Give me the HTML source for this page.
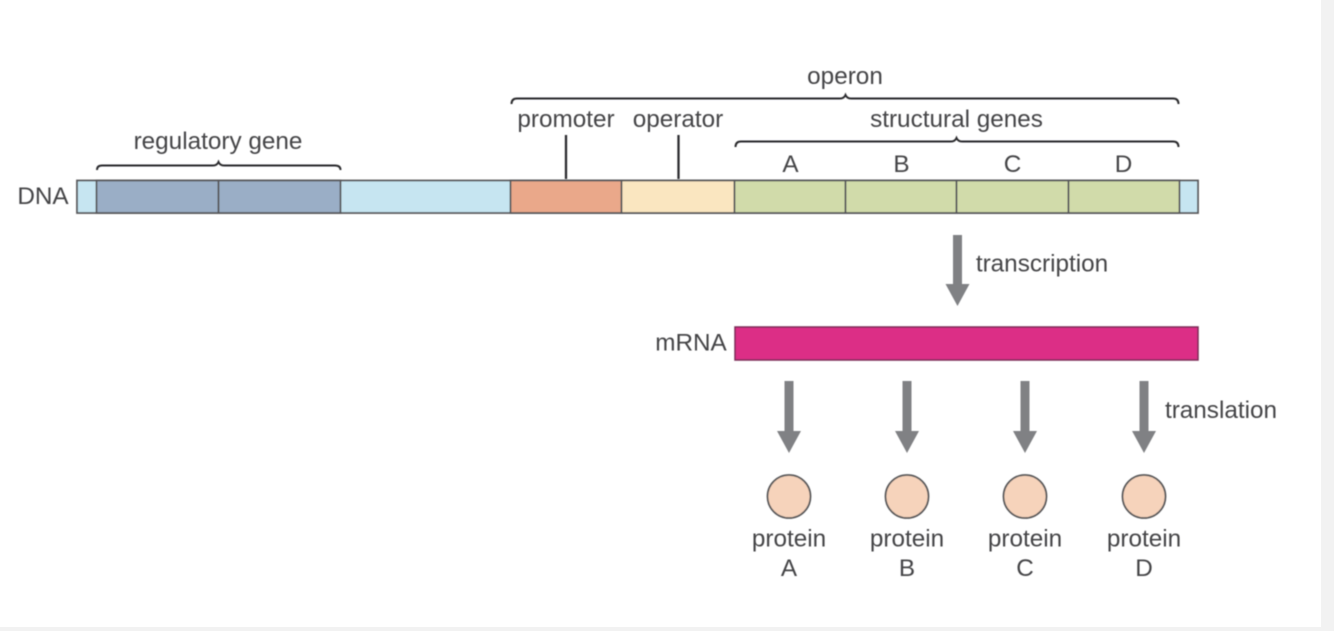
<!DOCTYPE html>
<html>
<head>
<meta charset="utf-8">
<style>
html,body{margin:0;padding:0;background:#f2f2f2;width:1334px;height:631px;overflow:hidden}
svg{display:block}
text{font-family:"Liberation Sans",sans-serif;font-size:24.300px;fill:#454547;text-anchor:middle}
</style>
</head>
<body>
<svg width="1334" height="631" viewBox="0 0 1334 631" xmlns="http://www.w3.org/2000/svg">
<defs><filter id="b" x="0" y="0" width="100%" height="100%"><feGaussianBlur stdDeviation="0.6"/></filter></defs>
<rect x="0" y="0" width="1321" height="627" fill="#ffffff"/>
<g filter="url(#b)">
<g stroke="#58595b" stroke-width="1.800">
<rect x="77" y="180.500" width="1121" height="32.500" fill="#c6e5f1"/>
<rect x="96.500" y="180.500" width="122" height="32.500" fill="#9aaec6"/>
<rect x="218.500" y="180.500" width="122" height="32.500" fill="#9aaec6"/>
<rect x="510.500" y="180.500" width="111" height="32.500" fill="#eaa88a"/>
<rect x="621.500" y="180.500" width="113" height="32.500" fill="#fae6c0"/>
<rect x="734.500" y="180.500" width="111" height="32.500" fill="#d1dbaa"/>
<rect x="845.500" y="180.500" width="111" height="32.500" fill="#d1dbaa"/>
<rect x="956.500" y="180.500" width="112" height="32.500" fill="#d1dbaa"/>
<rect x="1068.500" y="180.500" width="111" height="32.500" fill="#d1dbaa"/>
</g>
<g fill="none" stroke="#2b2b2d" stroke-width="2">
<path d="M97 170 Q97 165.500 102 165.500 H213 Q217 165.500 218.500 162 Q220 165.500 224 165.500 H335 Q340.500 165.500 340.500 170"/>
<path d="M511.500 104 Q511.500 98.500 517 98.500 H840 Q844 98.500 845.500 95 Q847 98.500 851 98.500 H1173 Q1178.500 98.500 1178.500 104"/>
<path d="M735.500 147 Q735.500 141.500 741 141.500 H951 Q955 141.500 956.500 138 Q958 141.500 962 141.500 H1173 Q1178.500 141.500 1178.500 147"/>
<path d="M566 135 V179 M678.500 135 V179" stroke-width="2.300"/>
</g>
<rect x="735" y="327" width="463" height="33" fill="#dc2f86" stroke="#7a2a56" stroke-width="1.500"/>
<g fill="#808184">
<path d="M953 235 H962 V284 H969.500 L957.500 306 L945.500 284 H953 Z"/>
<path d="M784.500 381 H793.500 V431 H801 L789 453 L777 431 H784.500 Z"/>
<path d="M902.500 381 H911.500 V431 H919 L907 453 L895 431 H902.500 Z"/>
<path d="M1020.500 381 H1029.500 V431 H1037 L1025 453 L1013 431 H1020.500 Z"/>
<path d="M1139.500 381 H1148.500 V431 H1156 L1144 453 L1132 431 H1139.500 Z"/>
</g>
<g fill="#f6d3bb" stroke="#58585a" stroke-width="1.800">
<circle cx="789" cy="496.500" r="21.500"/>
<circle cx="907" cy="496.500" r="21.500"/>
<circle cx="1025" cy="496.500" r="21.500"/>
<circle cx="1144" cy="496.500" r="21.500"/>
</g>
<text x="845" y="84">operon</text>
<text x="218" y="149">regulatory gene</text>
<text x="566" y="127">promoter</text>
<text x="678" y="127">operator</text>
<text x="956.500" y="127">structural genes</text>
<text x="790.500" y="172">A</text>
<text x="901.500" y="172">B</text>
<text x="1012.500" y="172">C</text>
<text x="1123.500" y="172">D</text>
<text x="43" y="204">DNA</text>
<text x="1042" y="271.500">transcription</text>
<text x="691" y="350.500">mRNA</text>
<text x="1221" y="418">translation</text>
<text x="789" y="546.500">protein</text>
<text x="907" y="546.500">protein</text>
<text x="1025" y="546.500">protein</text>
<text x="1144" y="546.500">protein</text>
<text x="789" y="576">A</text>
<text x="907" y="576">B</text>
<text x="1025" y="576">C</text>
<text x="1144" y="576">D</text>
</g>
</svg>
</body>
</html>
